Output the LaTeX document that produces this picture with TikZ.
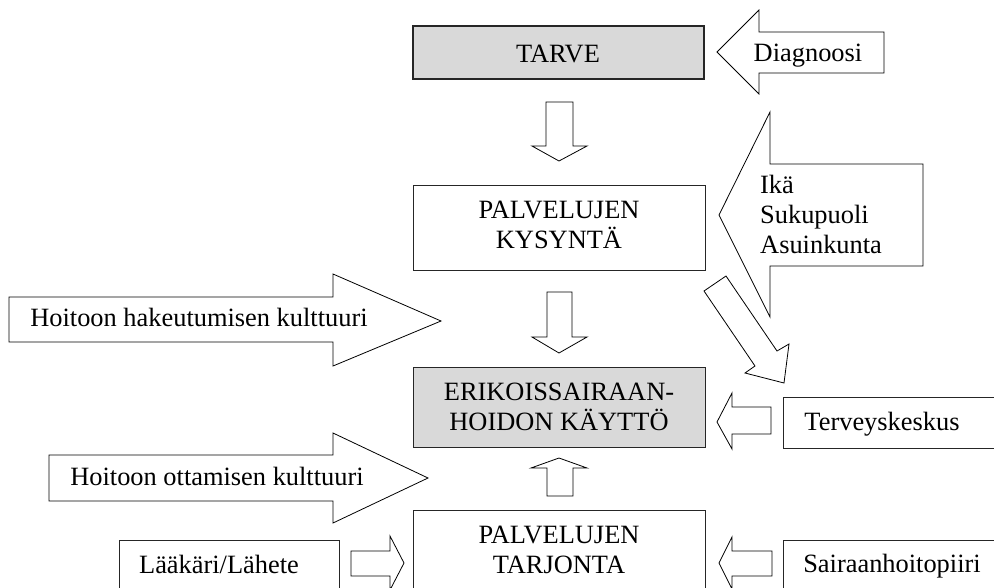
\documentclass[tikz,border=0pt]{standalone}
\usepackage{fontspec}
\setmainfont{Liberation Serif}
\newcommand\dgfont{\fontsize{26.4}{30}\selectfont}
\definecolor{boxgray}{HTML}{D9D9D9}
\tikzset{
  box/.style={draw=black!85, line width=1pt, fill=white},
  greybox/.style={box, fill=boxgray},
  barrow/.style={draw=black, line width=0.8pt, fill=white, line join=miter},
  lbl/.style={font=\dgfont, inner sep=0pt, anchor=base, align=center},
  lbll/.style={font=\dgfont, inner sep=0pt, anchor=base west, align=left},
}
\begin{document}
\begin{tikzpicture}[x=1pt,y=-1pt]
\useasboundingbox (0,0) rectangle (994,587);
\clip (0,0) rectangle (994,587);
% main boxes
\draw[greybox, line width=1.4pt] (413,26) rectangle (704,79);
\draw[box] (413,185) rectangle (705,270);
\draw[greybox] (413,367) rectangle (705,447);
\draw[box] (413,510) rectangle (705,600);
% side boxes
\draw[box] (783,397) rectangle (1000,448);
\draw[box] (119,540) rectangle (339,600);
\draw[box] (783,540) rectangle (1000,600);
% block arrows
\draw[barrow] (717,52) -- (759,10) -- (759,32) -- (884,32) -- (884,73) -- (759,73) -- (759,94) -- cycle;
\draw[barrow] (546,102) -- (573,102) -- (573,146) -- (587,146) -- (559,161) -- (532,146) -- (546,146) -- cycle;
\draw[barrow] (719,215) -- (770,112) -- (770,164) -- (923,164) -- (923,266) -- (770,266) -- (770,317) -- cycle;
\draw[barrow] (704,291) -- (726,276) -- (777,351) -- (789,344) -- (784,383) -- (745,373) -- (755,366) -- cycle;
\draw[barrow] (547,292) -- (572,292) -- (572,337) -- (587,337) -- (559,353) -- (532,337) -- (547,337) -- cycle;
\draw[barrow] (547,496) -- (573,496) -- (573,468) -- (587,468) -- (559,458) -- (531,468) -- (547,468) -- cycle;
\draw[barrow] (717,422) -- (732,393) -- (732,407) -- (771,407) -- (771,434) -- (732,434) -- (732,449) -- cycle;
\draw[barrow] (9,297) -- (333,297) -- (333,274) -- (441,321) -- (333,366) -- (333,342) -- (9,342) -- cycle;
\draw[barrow] (49,455) -- (333,455) -- (333,433) -- (428,478) -- (333,523) -- (333,501) -- (49,501) -- cycle;
\draw[barrow] (351,551) -- (390,551) -- (390,536) -- (404,563) -- (390,590) -- (390,576) -- (351,576) -- cycle;
\draw[barrow] (719,563) -- (732,537) -- (732,551) -- (772,551) -- (772,576) -- (732,576) -- (732,589) -- cycle;
% texts (multi-line nodes: base = baseline of last line)
\node[lbl] (tarve) at (558,62) {TARVE};
\node[lbl] (diag) at (808,61) {Diagnoosi};
\node[lbl] (kysynta) at (559,248) {PALVELUJEN\\KYSYNTÄ};
\node[lbll] (ika) at (760,253) {Ikä\\Sukupuoli\\Asuinkunta};
\node[lbl] (hakeut) at (199,326) {Hoitoon hakeutumisen kulttuuri};
\node[lbl] (kaytto) at (559,430) {ERIKOISSAIRAAN-\\HOIDON KÄYTTÖ};
\node[lbl] (terv) at (882,430) {Terveyskeskus};
\node[lbl] (ottam) at (217,485) {Hoitoon ottamisen kulttuuri};
\node[lbl] (tarjonta) at (559,573) {PALVELUJEN\\TARJONTA};
\node[lbl] (laak) at (219,573) {Lääkäri/Lähete};
\node[lbl] (sairaan) at (892,572) {Sairaanhoitopiiri};
\end{tikzpicture}
\end{document}
